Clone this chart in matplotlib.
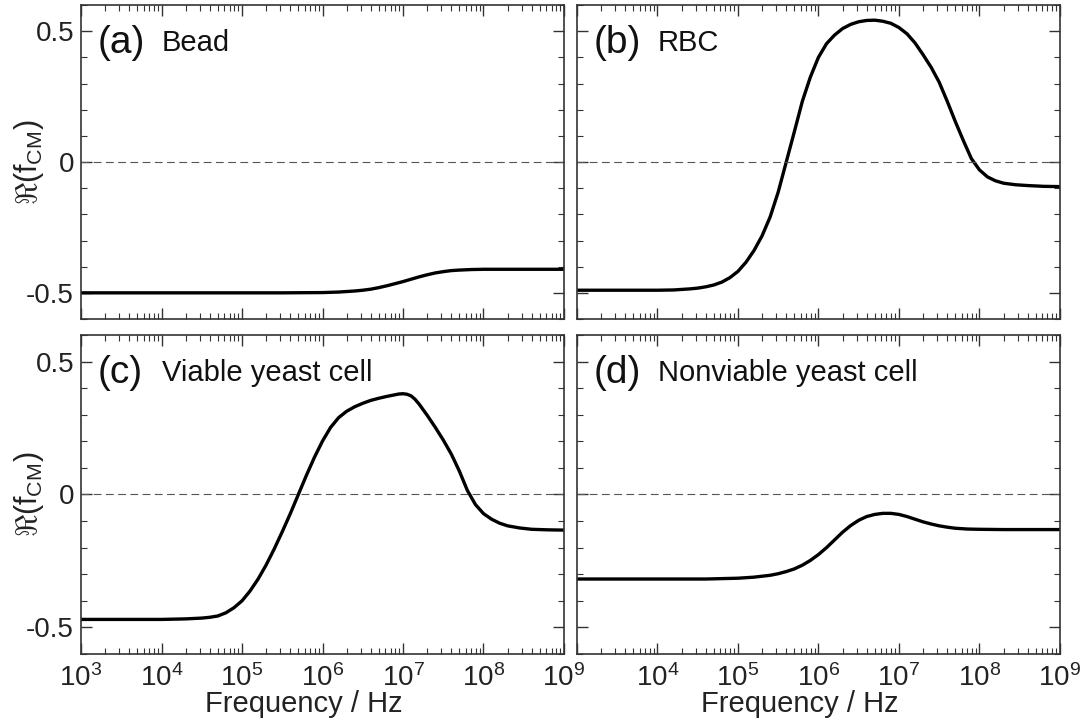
import matplotlib
matplotlib.use('Agg')
import matplotlib.pyplot as plt
from matplotlib.ticker import LogLocator, NullFormatter, MultipleLocator

plt.rcParams['font.family'] = ['Liberation Sans', 'DejaVu Sans']
plt.rcParams['mathtext.fontset'] = 'custom'
plt.rcParams['mathtext.rm'] = 'Liberation Sans'
plt.rcParams['mathtext.it'] = 'Liberation Sans:italic'

# log10(frequency / Hz) and Re(f_CM)
bead_logf = [3, 5.5, 6.0, 6.2, 6.4, 6.5, 6.6, 6.7, 6.8, 6.9, 7.0, 7.1, 7.2, 7.3,
             7.4, 7.5, 7.6, 7.7, 7.85, 8.0, 9]
bead_val = [-0.5, -0.5, -0.499, -0.497, -0.493, -0.49, -0.486, -0.48, -0.473,
            -0.465, -0.457, -0.448, -0.439, -0.431, -0.424, -0.419, -0.415,
            -0.413, -0.411, -0.41, -0.41]

rbc_logf = [3, 4.0, 4.2, 4.4, 4.5, 4.6, 4.7, 4.8, 4.9, 5.0, 5.1, 5.2, 5.3, 5.4,
            5.5, 5.6, 5.7, 5.8, 5.9, 6.0, 6.1, 6.2, 6.3, 6.4, 6.5, 6.6, 6.7, 6.8,
            6.9, 7.0, 7.1, 7.2, 7.3, 7.4, 7.5, 7.6, 7.7, 7.8, 7.9, 8.0, 8.1, 8.2,
            8.3, 8.45, 8.6, 8.8, 9.0]
rbc_val = [-0.49, -0.49, -0.489, -0.485, -0.482, -0.477, -0.47, -0.459, -0.442,
           -0.418, -0.383, -0.338, -0.282, -0.21, -0.115, 0.0, 0.115, 0.232,
           0.325, 0.4, 0.452, 0.485, 0.51, 0.526, 0.536, 0.541, 0.542, 0.538,
           0.53, 0.514, 0.49, 0.455, 0.41, 0.362, 0.305, 0.232, 0.155, 0.082,
           0.013, -0.03, -0.057, -0.072, -0.081, -0.087, -0.09, -0.093, -0.094]

viable_logf = [3, 4.0, 4.3, 4.5, 4.6, 4.7, 4.8, 4.9, 5.0, 5.1, 5.2, 5.3, 5.4, 5.5,
               5.6, 5.7, 5.8, 5.9, 6.0, 6.1, 6.2, 6.3, 6.4, 6.5, 6.6, 6.7, 6.8,
               6.9, 6.95, 7.0, 7.05, 7.1, 7.15, 7.2, 7.3, 7.4, 7.5, 7.6, 7.7, 7.8,
               7.9, 8.0, 8.1, 8.2, 8.3, 8.45, 8.6, 8.8, 9.0]
viable_val = [-0.47, -0.47, -0.468, -0.465, -0.462, -0.457, -0.445, -0.426, -0.4,
              -0.363, -0.318, -0.265, -0.205, -0.14, -0.072, 0.0, 0.072, 0.14,
              0.201, 0.252, 0.289, 0.313, 0.33, 0.343, 0.354, 0.362, 0.369, 0.375,
              0.378, 0.379, 0.377, 0.371, 0.358, 0.34, 0.298, 0.253, 0.205, 0.152,
              0.088, 0.015, -0.038, -0.072, -0.093, -0.108, -0.118, -0.126, -0.131,
              -0.133, -0.134]

nonviable_logf = [3, 4.6, 5.0, 5.2, 5.4, 5.5, 5.6, 5.7, 5.8, 5.9, 6.0, 6.1, 6.2,
                  6.3, 6.4, 6.5, 6.6, 6.7, 6.8, 6.9, 7.0, 7.1, 7.2, 7.3, 7.4, 7.5,
                  7.6, 7.7, 7.85, 8.0, 8.3, 9]
nonviable_val = [-0.318, -0.318, -0.315, -0.311, -0.304, -0.298, -0.29, -0.28,
                 -0.266, -0.248, -0.226, -0.2, -0.171, -0.142, -0.117, -0.097,
                 -0.083, -0.075, -0.071, -0.071, -0.075, -0.083, -0.093, -0.103,
                 -0.111, -0.118, -0.123, -0.127, -0.13, -0.131, -0.132, -0.132]

panel_tags = ['(a)', '(b)', '(c)', '(d)']
panel_names = ['Bead', 'RBC', 'Viable yeast cell', 'Nonviable yeast cell']

x_ticks = [1e3, 1e4, 1e5, 1e6, 1e7, 1e8, 1e9]
x_labels = [r'$10^{3}$', r'$10^{4}$', r'$10^{5}$', r'$10^{6}$',
            r'$10^{7}$', r'$10^{8}$', r'$10^{9}$']
y_ticks = [-0.5, 0, 0.5]
y_labels = ['-0.5', '0', '0.5']

data = [(bead_logf, bead_val), (rbc_logf, rbc_val),
        (viable_logf, viable_val), (nonviable_logf, nonviable_val)]

fig = plt.figure(figsize=(10.89, 7.26), dpi=100)
# [left, bottom, width, height] in figure fraction
boxes = [[0.0744, 0.5606, 0.4435, 0.4325],
         [0.5298, 0.5606, 0.4435, 0.4325],
         [0.0744, 0.0992, 0.4435, 0.4394],
         [0.5298, 0.0992, 0.4435, 0.4394]]

spine_col = '#333333'
for i, box in enumerate(boxes):
    ax = fig.add_axes(box)
    logf, val = data[i]
    ax.plot([10 ** v for v in logf], val, color='black', lw=2.4,
            solid_capstyle='round', solid_joinstyle='round')
    ax.axhline(0, color='#555555', lw=0.8, ls=(0, (7, 4)))
    ax.set_xscale('log')
    ax.set_xlim(1e3, 1e9)
    ax.set_ylim(-0.6, 0.6)
    ax.set_yticks(y_ticks)
    ax.yaxis.set_minor_locator(MultipleLocator(0.1))
    ax.set_xticks(x_ticks)
    ax.xaxis.set_minor_locator(LogLocator(base=10, subs=range(2, 10), numticks=20))
    ax.xaxis.set_minor_formatter(NullFormatter())
    ax.tick_params(which='both', direction='in', top=True, right=True,
                   colors=spine_col, labelcolor='#222222', labelsize=20)
    ax.tick_params(which='major', length=8, width=1.0)
    ax.tick_params(which='minor', length=4, width=0.8)
    ax.tick_params(axis='x', pad=7)
    ax.tick_params(axis='y', pad=5)
    for s in ax.spines.values():
        s.set_color(spine_col)
        s.set_linewidth(1.2)

    if i >= 2:
        labels = list(x_labels)
        if i == 3:
            labels[0] = ''
        ax.set_xticklabels(labels)
        ax.set_xlabel('Frequency / Hz', fontsize=21, color='#222222')
        ax.xaxis.set_label_coords(0.462, -0.112)
    else:
        ax.set_xticklabels([])
    if i % 2 == 0:
        ax.set_yticklabels(y_labels)
        ax.set_ylabel(r'$\Re(\mathrm{f}_{\mathrm{CM}})$', fontsize=22,
                      color='#222222')
        ax.yaxis.set_label_coords(-0.072, 0.5)
    else:
        ax.set_yticklabels([])

    ax.text(0.035, 0.88, panel_tags[i], transform=ax.transAxes, fontsize=28,
            va='center', ha='left', color='#111111')
    ax.text(0.167, 0.88, panel_names[i], transform=ax.transAxes, fontsize=21,
            va='center', ha='left', color='#111111')

fig.savefig('out.png', dpi=100)
